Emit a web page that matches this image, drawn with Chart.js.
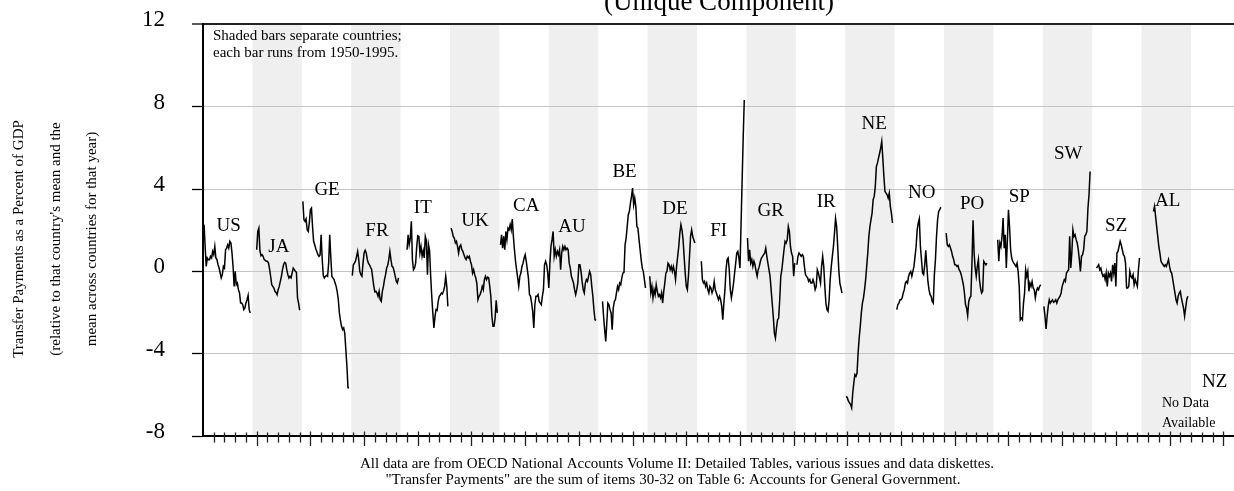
<!DOCTYPE html>
<html>
<head>
<meta charset="utf-8">
<script src="https://cdn.jsdelivr.net/npm/chart.js@4.4.1/dist/chart.umd.min.js"></script>
<style>
  html, body { margin: 0; padding: 0; background: #ffffff; }
  canvas { display: block; }
</style>
</head>
<body>
<canvas id="chart" width="1234" height="491"></canvas>
<script>
// Country codes, in plotting order; every country occupies one 1950-1995 block.
const countries = ['US','JA','GE','FR','IT','UK','CA','AU','BE','DE','FI','GR','IR','NE','NO','PO','SP','SW','SZ','AL','NZ'];
const YEARS = 46; // 1950 .. 1995

// Unique component of transfer payments (% of GDP), one value per year; null = not reported.
const US = [null, 2.27, 1.21, 0.24, 0.65, 0.57, 0.57, 0.73, 0.65, 0.97, 0.81, 1.21, 0.65, 0.57, 0.32, 0.16, -0.08, -0.32, -0.16, 0.24, 0.16, 1.05, 1.13, 1.29, 1.13, 1.46, 1.38, 0.89, 0.24, -0.73, 0, -0.65, -0.57, -0.89, -1.05, -1.54, -1.54, -1.62, -1.86, -1.78, -1.54, -1.38, -1.17, -1.86, -2.02];
const JA = [null, null, null, null, 1.05, 1.94, 2.1, 1.0, 0.76, 0.81, 0.73, 0.57, 0.53, 0.49, 0.49, 0.4, 0.11, -0.24, -0.65, -0.73, -0.81, -0.97, -1.02, -1.13, -0.89, -0.73, -0.49, -0.24, 0.08, 0.32, 0.44, 0.4, 0.08, -0.16, -0.32, -0.24, -0.32, -0.08, 0.16, 0.08, 0, -0.05, -1.29, -1.54, -1.89];
const GE = [null, 3.40, 2.51, 2.43, 2.55, 2.02, 1.94, 2.35, 2.99, 3.07, 2.18, 1.46, 1.29, 1.10, 0.97, 0.81, 0.73, 0.80, 1.78, 0.60, -0.20, -0.32, -0.24, -0.20, -0.24, 0.40, 1.78, 0.70, -0.24, -0.32, -0.40, -0.57, -0.73, -1.00, -1.38, -2.02, -2.40, -2.67, -2.83, -2.75, -3.00, -3.80, -4.60, -5.66, -5.66];
const FR = [null, -0.21, 0.32, 0.4, 0.5, 0.73, 0.97, 0.57, 0, -0.16, -0.24, 0.4, 0.89, 1.02, 0.89, 0.57, 0.4, 0.32, 0.2, 0.1, -0.3, -0.7, -1.0, -0.97, -1.05, -1.21, -0.97, -1.38, -1.46, -0.97, -0.73, -0.4, -0.16, 0.16, 0.3, 0.57, 0.97, 0.57, 0.24, 0.2, 0, -0.24, -0.49, -0.57, -0.32];
const IT = [null, null, null, null, null, null, 1.05, 1.78, 1.3, 1.6, 2.43, 0.57, 0.08, 0.16, 0.4, 1.2, 1.73, 1.7, 0.89, 1.21, 0.73, 1.0, 0.65, 1.7, 1.5, -0.16, 1.29, 1.0, -0.24, -1.21, -2.02, -2.75, -2.2, -1.86, -1.9, -1.46, -1.21, -1.15, -1.05, -1.1, -0.95, -0.73, -0.24, -0.73, -1.7];
const UK = [null, 2.1, 1.94, 1.7, 1.62, 1.38, 1.46, 1.21, 0.89, 1.21, 1.29, 1.05, 0.97, 0.81, 0.65, 0.57, 0.73, 0.65, 0.73, 0.49, 0.32, -0.08, 0.08, -0.16, -0.32, -0.6, -1.38, -1.21, -1.13, -0.97, -0.73, -0.89, -0.4, -0.24, -0.4, -0.28, -0.32, -0.73, -1.21, -2.18, -2.67, -2.67, -2.27, -1.41, -2.02];
const CA = [null, 1.29, 1.78, 1.13, 1.70, 1.05, 1.94, 1.54, 2.10, 2.02, 2.27, 2.02, 2.54, 1.70, 1.05, 0.49, 0.08, -0.32, -0.73, -0.24, -0.08, 0.24, 0.40, 0.65, 0.81, 0.49, 0.08, -0.32, -1.13, -1.21, -1.54, -1.94, -2.75, -1.62, -1.21, -1.21, -1.13, -1.46, -1.54, -1.62, -1.21, -0.89, 0.32, 0.49, 0.32, -0.08];
const AU = [-0.81, 0.40, 1.21, 1.54, 1.94, 0.73, 1.05, 0.73, 0.97, 0.81, 1.05, 0.08, 0.89, 1.21, 1.05, 1.21, 1.05, 1.13, 1.05, 0.40, 0.16, -0.24, -0.40, -0.57, -0.89, -1.13, -0.89, -0.57, 0.32, 0.32, 0, -0.49, -0.89, -1.05, -0.57, -0.40, -0.49, -0.24, 0, -0.16, -0.73, -1.21, -1.86, -2.35, -2.38];
const BE = [null, null, null, null, -1.46, -2.18, -2.83, -3.40, -2.51, -1.54, -1.62, -1.86, -2.02, -2.83, -1.78, -1.46, -1.38, -1.05, -0.73, -0.89, -0.57, -0.65, -0.32, -0.08, -0.05, 1.29, 1.62, 2.18, 2.75, 2.91, 3.32, 3.64, 4.05, 3.24, 3.56, 3.16, 2.18, 2.10, 1.54, 1.05, 0.57, 0.16, 0, -0.40, -0.81];
const DE = [null, null, -0.24, -1.05, -0.73, -1.29, -0.89, -1.13, -0.65, -0.97, -1.21, -1.13, -1.29, -1.05, -1.54, -0.97, -0.57, -0.08, 0, 0.4, 0.32, 0.08, 0.24, 0, 0.24, 0, -0.4, 0.24, 0.73, 1.21, 1.86, 2.27, 2.02, 1.54, 0.73, -0.08, -0.73, -0.89, -0.24, 0.73, 1.7, 2.02, 1.7, 1.54, 1.38];
const FI = [null, null, null, null, 0.49, -0.40, -0.57, -0.49, -0.73, -0.57, -0.89, -1.05, -0.73, -0.81, -1.05, -0.89, -0.49, -0.89, -1.05, -1.21, -1.38, -1.21, -1.38, -1.70, -2.35, -1.54, -0.89, 0.08, 0.57, 0.65, 0.08, -0.89, -1.29, -0.97, -0.57, -0.08, 0.40, 0.89, 0.97, 0.65, 0.16, 2.3, 4.4, 6.5, 8.33];
const GR = [null, 1.62, 0.49, 1.05, 0.40, 0.57, 0.24, 0.49, 0.32, 0, -0.24, 0.08, 0.24, 0.49, 0.65, 0.73, 0.81, 0.89, 1.13, 0.73, 0.40, 0.08, -0.24, -0.89, -1.54, -2.18, -2.99, -3.24, -2.75, -2.35, -2.27, -1.38, -0.24, 0.08, 0.57, 1.05, 1.46, 1.38, 1.54, 2.18, 1.94, 1.21, 0.89, 0.73, -0.24, 0.40];
const IR = [null, 0.32, 0.73, 0.89, 0.81, 0.73, 0.81, 0.73, 0.24, -0.16, -0.24, -0.32, -0.49, -0.40, -0.57, -0.57, -0.40, -0.57, -0.89, -0.73, 0.08, -0.08, -0.32, -0.57, 0.24, 0.73, 0.24, -0.73, -1.54, -1.86, -1.94, -1.38, -0.40, 0.24, 0.73, 1.21, 1.86, 2.57, 2.18, 1.21, 0.08, -0.57, -0.81, -1.05];
const NE = [null, -6.07, -6.15, -6.31, -6.39, -6.47, -6.63, -5.91, -5.42, -5.02, -5.10, -4.94, -3.96, -3.24, -2.67, -2.02, -1.54, -1.29, -0.89, -0.40, 0.24, 0.89, 1.70, 2.18, 2.51, 2.83, 3.48, 3.64, 4.13, 5.10, 5.26, 5.50, 5.74, 5.99, 6.31, 5.50, 4.61, 3.88, 3.80, 3.72, 3.56, 3.80, 3.16, 2.83, 2.35];
const NO = [null, null, -1.86, -1.62, -1.54, -1.38, -1.38, -1.29, -1.05, -0.89, -0.57, -0.49, -0.57, -0.24, -0.08, 0, -0.24, 0, 0.24, 0.73, 1.21, 2.02, 2.35, 2.55, 1.21, 0.57, -0.08, -0.16, 0.3, 1.02, 0.24, -0.49, -0.89, -1.13, -1.21, -1.46, -1.54, -0.16, 0.57, 1.70, 2.51, 2.91, 3.0, 3.12];
const PO = [null, null, 1.86, 1.29, 1.21, 1.29, 1.13, 0.97, 0.73, 0.57, 0.32, 0.32, 0.24, 0.28, 0.08, 0, -0.16, -0.40, -0.65, -1.05, -1.62, -1.78, -2.15, -1.46, -1.29, -1.21, 0.40, 2.48, 0.89, 0.16, -0.24, 0.24, 0.57, -0.40, -0.81, -1.05, -0.97, 0.49, 0.40, 0.32, 0.40];
const SP = [null, null, null, null, 1.54, 0.49, 1.38, 1.21, 1.70, 2.59, 1.13, 1.78, 0.16, 1.54, 2.99, 2.18, 1.05, 0.65, 0.49, 0.40, 0.32, 0.24, 0.40, 0, -0.73, -2.35, -2.27, -2.35, -1.54, -1.05, 0.08, -0.24, 0, -0.97, -0.57, -0.73, -0.49, -0.81, -0.89, -1.29, -0.97, -0.81, -0.89, -0.73, -0.65];
const SW = [null, -1.70, -2.18, -2.80, -2.18, -1.70, -1.38, -1.54, -1.46, -1.38, -1.50, -1.46, -1.38, -1.54, -1.38, -1.29, -1.21, -1.05, -0.73, -0.57, -0.40, -0.49, -0.08, 0, 0.08, 1.70, 0.16, 0.89, 2.02, 1.70, 1.78, 1.54, 1.38, 1.05, 0.57, 0, 0.73, 0.81, 1.05, 1.70, 1.78, 1.94, 3.07, 3.72, 4.85];
const SZ = [null, null, null, null, 0.16, 0.24, 0.32, 0.08, 0.16, -0.08, -0.24, -0.16, -0.40, -0.08, -0.73, -0.08, -0.24, -0.08, -0.49, 0.32, -0.08, 0.40, -0.73, 0.89, 0.97, 1.21, 1.46, 1.29, 1.05, 0.81, 0.73, 0.40, -0.81, -0.81, -0.73, 0, -0.24, -0.32, -0.16, -0.65, -0.40, -0.57, -0.73, 0.08, 0.65];
const AL = [null, null, null, null, null, null, null, null, null, null, null, 2.91, 3.16, 2.67, 2.18, 1.70, 1.21, 0.89, 0.49, 0.40, 0.32, 0.24, 0.32, 0.24, 0.40, 0.57, 0.24, 0, -0.08, -0.40, -0.73, -1.05, -1.38, -1.54, -1.21, -1.05, -0.97, -1.29, -1.54, -1.78, -2.18, -1.78, -1.38, -1.21];
const NZ = []; // no data available

const seriesByCountry = [US, JA, GE, FR, IT, UK, CA, AU, BE, DE, FI, GR, IR, NE, NO, PO, SP, SW, SZ, AL, NZ];

// Y axis tick values
const yTicks = [-8, -4, 0, 4, 8, 12];

// Where each country code is written, in axis units (observation index, value)
const labelAnchorX = [23.9, 70.6, 115.5, 162, 204.7, 253.3, 301, 343.6, 392.5, 439.5, 480.2, 528.7, 580.3, 625, 669.2, 716.2, 760, 805.7, 850.3, 898.2, 942];
const labelAnchorY = [2.18, 1.20, 3.97, 1.97, 3.10, 2.43, 3.16, 2.17, 4.81, 3.04, 1.97, 2.91, 3.35, 7.17, 3.83, 3.29, 3.63, 5.68, 2.18, 3.44, -5.40];

// One continuous series: country blocks laid end to end, gaps where a year is missing.
const points = [];
seriesByCountry.forEach((vals, ci) => {
  for (let k = 0; k < YEARS; k++) {
    const v = vals[k];
    points.push({ x: ci * YEARS + k, y: (v === undefined || v === null) ? null : v });
  }
});

const SERIF = '"Liberation Serif", "Times New Roman", Times, serif';

// Alternate country blocks get a light grey background
const countryBands = {
  id: 'countryBands',
  beforeDraw(chart) {
    const { ctx, chartArea: a, scales: { x } } = chart;
    ctx.save();
    ctx.fillStyle = '#efefef';
    countries.forEach((c, i) => {
      if (i % 2 !== 1) return;
      const x0 = Math.max(a.left, x.getPixelForValue(i * YEARS));
      const x1 = Math.min(a.right, x.getPixelForValue((i + 1) * YEARS));
      if (x1 > x0) ctx.fillRect(x0, a.top, x1 - x0, a.bottom - a.top);
    });
    ctx.restore();
  }
};

// Country codes next to their lines
const countryLabels = {
  id: 'countryLabels',
  afterDatasetsDraw(chart) {
    const { ctx, scales: { x, y } } = chart;
    ctx.save();
    ctx.fillStyle = '#000';
    ctx.font = '19px ' + SERIF;
    ctx.textAlign = 'center';
    ctx.textBaseline = 'middle';
    countries.forEach((c, i) => {
      ctx.fillText(c, x.getPixelForValue(labelAnchorX[i]), y.getPixelForValue(labelAnchorY[i]));
    });
    ctx.restore();
  }
};

// Year ticks across the bottom axis (every 10 observations, longer every 50) and the free text
const axisDecor = {
  id: 'axisDecor',
  afterDraw(chart) {
    const { ctx, chartArea: a, scales: { x, y } } = chart;
    ctx.save();
    ctx.strokeStyle = '#222';
    ctx.lineWidth = 1.3;
    const yb = a.bottom;
    x.ticks.forEach(t => {
      const px = Math.round(x.getPixelForValue(t.value)) + 0.5;
      if (px < a.left + 1 || px > a.right) return;
      const major = t.value % 50 === 0;
      ctx.beginPath();
      ctx.moveTo(px, yb - (major ? 4.5 : 3.5));
      ctx.lineTo(px, yb + (major ? 10 : 6.5));
      ctx.stroke();
    });

    ctx.fillStyle = '#000';
    ctx.textBaseline = 'alphabetic';

    // title, partly above the top edge
    ctx.font = '27px ' + SERIF;
    ctx.textAlign = 'center';
    ctx.fillText('(Unique Component)', 719, 9.5);

    // note inside the plot
    ctx.font = '15px ' + SERIF;
    ctx.textAlign = 'left';
    ctx.fillText('Shaded bars separate countries;', 213, 40);
    ctx.fillText('each bar runs from 1950-1995.', 213, 57);

    // NZ note
    ctx.font = '14px ' + SERIF;
    ctx.fillText('No Data', 1162, 407);
    ctx.fillText('Available', 1162, 426.5);

    // source lines
    ctx.font = '15px ' + SERIF;
    ctx.textAlign = 'center';
    ctx.fillText('All data are from OECD National Accounts Volume II: Detailed Tables, various issues and data diskettes.', 677, 468);
    ctx.fillText('"Transfer Payments" are the sum of items 30-32 on Table 6: Accounts for General Government.', 673, 484);

    // rotated y-axis title, three lines
    const lines = [
      'Transfer Payments as a Percent of GDP',
      '(relative to that country\'s mean and the',
      'mean across countries for that year)'
    ];
    const cx = [19, 56, 92.5];
    ctx.font = '15px ' + SERIF;
    ctx.textBaseline = 'middle';
    lines.forEach((s, i) => {
      ctx.save();
      ctx.translate(cx[i], 239);
      ctx.rotate(-Math.PI / 2);
      ctx.textAlign = 'center';
      ctx.fillText(s, 0, 0);
      ctx.restore();
    });
    ctx.restore();
  }
};

new Chart(document.getElementById('chart'), {
  type: 'line',
  data: {
    datasets: [{
      data: points,
      borderColor: '#000',
      borderWidth: 1.5,
      pointRadius: 0,
      pointHoverRadius: 0,
      tension: 0,
      spanGaps: false,
      fill: false
    }]
  },
  options: {
    responsive: false,
    animation: false,
    events: [],
    layout: { padding: { top: 24.4, right: 0, bottom: 0, left: 0 } },
    plugins: {
      legend: { display: false },
      tooltip: { enabled: false },
      title: { display: false }
    },
    scales: {
      x: {
        type: 'linear',
        min: 0,
        max: 960,
        grid: { display: false },
        border: { display: true, color: '#000', width: 2 },
        ticks: { display: false, stepSize: 10 },
        afterFit(scale) { scale.height = 55; scale.paddingLeft = 0; scale.paddingRight = 0; }
      },
      y: {
        type: 'linear',
        min: yTicks[0],
        max: yTicks[yTicks.length - 1],
        afterBuildTicks(scale) { scale.ticks = yTicks.map(v => ({ value: v })); },
        afterFit(scale) { scale.width = 203; scale.paddingTop = 0; scale.paddingBottom = 0; },
        border: { display: true, color: '#000', width: 2 },
        grid: {
          color: ctx => (ctx.tick && ctx.tick.value === 12) ? '#222' : '#c4c4c4',
          lineWidth: ctx => (ctx.tick && ctx.tick.value === 12) ? 2 : 1,
          tickColor: '#000',
          tickWidth: 1.3,
          tickLength: 11,
          drawTicks: true
        },
        ticks: {
          color: '#000',
          font: { family: SERIF, size: 23 },
          padding: 27,
          labelOffset: -4
        }
      }
    }
  },
  plugins: [countryBands, countryLabels, axisDecor]
});
</script>
</body>
</html>
